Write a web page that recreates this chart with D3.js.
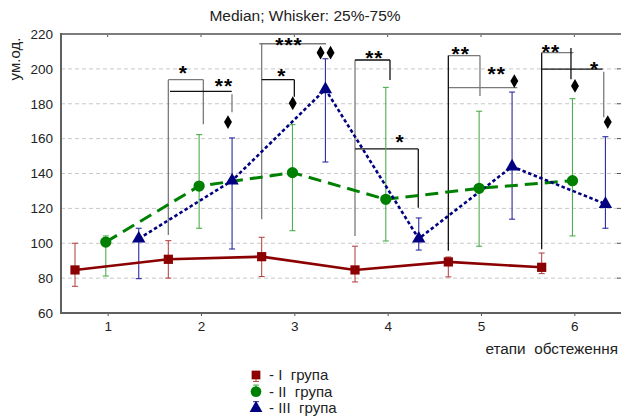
<!DOCTYPE html>
<html>
<head>
<meta charset="utf-8">
<script src="https://cdn.jsdelivr.net/npm/d3@7"></script>
<style>
body { margin: 0; background: white; }
text { font-family: "Liberation Sans", Arial, sans-serif; fill: #222; }
</style>
</head>
<body>
<script>
var width = 621;
var height = 416;

// stages of examination and the three groups (median, 25%, 75%)
var stages = [1, 2, 3, 4, 5, 6];
var groupLabels = ["- I  група", "- II  група", "- III  група"];
var medI = [84.7, 90.8, 92.3, 84.7, 89.3, 86.2];
var lowI = [75.3, 80.0, 80.9, 77.8, 80.7, 82.6];
var highI = [100.0, 101.5, 103.4, 98.3, 92.1, 94.4];
var medII = [100.7, 132.8, 140.5, 125.2, 131.5, 135.9];
var lowII = [81.2, 108.6, 107.2, 101.3, 98.3, 104.2];
var highII = [104.2, 162.3, 168.0, 189.4, 175.7, 182.9];
var medIII = [102.6, 135.9, 188.3, 102.6, 144.0, 122.5];
var lowIII = [79.7, 96.7, 146.6, 96.1, 113.8, 108.6];
var highIII = [108.6, 160.4, 205.8, 114.5, 186.7, 161.1];
var yTicks = [60, 80, 100, 120, 140, 160, 180, 200, 220];
var gridTicks = [80, 100, 120, 140, 160, 180, 200];

// significance brackets, [x1, y1, x2, y2] in stage / value units
var grayLinks = [
  [1.65, 193.8, 2.025, 193.8], [1.65, 193.8, 1.65, 104.7], [2.025, 193.8, 2.025, 168.2],
  [2.332, 185.4, 2.332, 175.1],
  [2.625, 214.4, 3.339, 214.4], [2.65, 214.4, 2.65, 113.7],
  [3.65, 205.1, 3.65, 104.2],
  [4.65, 207.6, 4.989, 207.6], [4.989, 207.6, 4.989, 184.4],
  [4.65, 189.2, 5.389, 189.2],
  [5.65, 209.3, 5.99, 209.3],
  [6.315, 198.4, 6.315, 172.2]
];
var blackLinks = [
  [1.668, 187.1, 2.329, 187.1],
  [2.65, 193.8, 3.0, 193.8], [3.0, 193.8, 3.0, 184.0],
  [3.65, 205.1, 4.025, 205.1], [4.025, 205.1, 4.025, 193.6],
  [3.65, 154.1, 4.328, 154.1], [4.328, 154.1, 4.328, 120.4],
  [4.65, 207.6, 4.65, 95.7],
  [5.65, 209.3, 5.65, 96.5], [5.964, 212.0, 5.964, 194.0],
  [5.65, 199.8, 6.304, 199.8]
];
var starMarks = [
  [1.81, 201.1, "*"], [2.246, 193.6, "**"], [2.943, 217.1, "***"], [2.865, 199.4, "*"],
  [3.857, 209.5, "**"], [4.132, 161.1, "*"], [4.783, 211.8, "**"], [5.168, 200.3, "**"],
  [5.75, 213.1, "**"], [6.218, 203.2, "*"]
];
var diamondMarks = [
  [2.289, 169.5], [2.983, 180.3], [3.281, 209.3], [3.388, 209.3],
  [5.357, 193.0], [6.007, 190.2], [6.358, 169.5]
];

var plotLeft = 61, plotRight = 621, plotTop = 34, plotBottom = 313;

var x = d3.scaleLinear().domain([0.5, 6.5]).range([plotLeft, plotRight]);
var y = d3.scaleLinear().domain([60, 220]).range([plotBottom, plotTop]);

function buildSeries(med, low, high) {
  return stages.map(function(s, i) {
    return {stage: s, med: med[i], low: low[i], high: high[i]};
  });
}

var groups = [
  {data: buildSeries(medI, lowI, highI), offset: -0.35, color: "#8b0000", whisker: "#b84a4a",
   dash: null, lineWidth: 2.6, symbol: d3.symbolSquare, size: 85},
  {data: buildSeries(medII, lowII, highII), offset: -0.02, color: "#008000", whisker: "#4cae4c",
   dash: "13,7", lineWidth: 3, symbol: d3.symbolCircle, size: 100},
  {data: buildSeries(medIII, lowIII, highIII), offset: 0.333, color: "#000080", whisker: "#2b2ba0",
   dash: "3.5,2.5", lineWidth: 2.6, symbol: d3.symbolTriangle, size: 78}
];

var svg = d3.select("body")
  .append("svg")
  .attr("width", width)
  .attr("height", height);

svg.append("text")
  .attr("x", 305)
  .attr("y", 21)
  .attr("text-anchor", "middle")
  .style("font-size", "15.5px")
  .text("Median; Whisker: 25%-75%");

// grid
svg.selectAll(".grid")
  .data(gridTicks)
  .enter()
  .append("line")
  .attr("class", "grid")
  .attr("x1", plotLeft)
  .attr("x2", plotRight)
  .attr("y1", (d) => y(d))
  .attr("y2", (d) => y(d))
  .attr("stroke", "#c8c8c8")
  .attr("stroke-dasharray", "4,3");

// brackets
function drawLinks(list, color) {
  svg.append("g")
    .selectAll("line")
    .data(list)
    .enter()
    .append("line")
    .attr("x1", (d) => x(d[0]))
    .attr("y1", (d) => y(d[1]))
    .attr("x2", (d) => x(d[2]))
    .attr("y2", (d) => y(d[3]))
    .attr("stroke", color)
    .attr("stroke-width", 1.3);
}
drawLinks(grayLinks, "#7a7a7a");
drawLinks(blackLinks, "#111");

// whiskers
groups.forEach(function(g) {
  var wg = svg.append("g").attr("stroke", g.whisker).attr("stroke-width", 1.1);
  wg.selectAll(".stem")
    .data(g.data).enter()
    .append("line")
    .attr("x1", (d) => x(d.stage + g.offset))
    .attr("x2", (d) => x(d.stage + g.offset))
    .attr("y1", (d) => y(d.low))
    .attr("y2", (d) => y(d.high));
  ["low", "high"].forEach(function(k) {
    wg.selectAll(".cap-" + k)
      .data(g.data).enter()
      .append("line")
      .attr("x1", (d) => x(d.stage + g.offset) - 3)
      .attr("x2", (d) => x(d.stage + g.offset) + 3)
      .attr("y1", (d) => y(d[k]))
      .attr("y2", (d) => y(d[k]));
  });
});

// lines
groups.forEach(function(g) {
  var line = d3.line()
    .x((d) => x(d.stage + g.offset))
    .y((d) => y(d.med));
  svg.append("path")
    .datum(g.data)
    .attr("d", line)
    .attr("fill", "none")
    .attr("stroke", g.color)
    .attr("stroke-width", g.lineWidth)
    .attr("stroke-dasharray", g.dash);
});

// markers
groups.forEach(function(g) {
  svg.selectAll(null)
    .data(g.data).enter()
    .append("path")
    .attr("d", d3.symbol(g.symbol, g.size))
    .attr("transform", (d) => "translate(" + x(d.stage + g.offset) + "," + y(d.med) + ")")
    .attr("fill", g.color);
});

// significance signs
svg.selectAll(".diamond")
  .data(diamondMarks).enter()
  .append("path")
  .attr("class", "diamond")
  .attr("d", d3.symbol(d3.symbolDiamond, 55))
  .attr("transform", (d) => "translate(" + x(d[0]) + "," + y(d[1]) + ")")
  .attr("fill", "#000");

svg.selectAll(".star")
  .data(starMarks).enter()
  .append("text")
  .attr("class", "star")
  .attr("x", (d) => x(d[0]))
  .attr("y", (d) => y(d[1]))
  .attr("dy", "0.6em")
  .attr("text-anchor", "middle")
  .style("font-size", "21px")
  .style("font-weight", "bold")
  .style("letter-spacing", "1px")
  .style("fill", "#000")
  .text((d) => d[2]);

// axes
var yAxis = d3.axisLeft(y).tickValues(yTicks).tickSize(0).tickPadding(8);
var gy = svg.append("g")
  .attr("transform", "translate(" + plotLeft + ",0)")
  .call(yAxis);
gy.select(".domain").remove();
gy.selectAll("text").style("font-size", "13.5px").style("fill", "#222");

var xAxis = d3.axisBottom(x).tickValues(stages).tickSize(3).tickPadding(5).tickFormat(d3.format("d"));
var gx = svg.append("g")
  .attr("transform", "translate(0," + plotBottom + ")")
  .call(xAxis);
gx.select(".domain").remove();
gx.selectAll("line").attr("stroke", "#555");
gx.selectAll("text").style("font-size", "13.5px").style("fill", "#222");

// top and right ticks
svg.selectAll(".ttick")
  .data(stages).enter()
  .append("line")
  .attr("x1", (d) => x(d)).attr("x2", (d) => x(d))
  .attr("y1", plotTop).attr("y2", plotTop + 3)
  .attr("stroke", "#555");
svg.selectAll(".rtick")
  .data(gridTicks).enter()
  .append("line")
  .attr("x1", plotRight - 4).attr("x2", plotRight)
  .attr("y1", (d) => y(d)).attr("y2", (d) => y(d))
  .attr("stroke", "#555");

// frame
svg.append("line")
  .attr("x1", plotLeft).attr("x2", plotRight).attr("y1", plotTop).attr("y2", plotTop)
  .attr("stroke", "#7c7c7c").attr("stroke-width", 2);
svg.append("line")
  .attr("x1", plotLeft).attr("x2", plotLeft).attr("y1", plotTop - 1).attr("y2", plotBottom + 1)
  .attr("stroke", "#606060").attr("stroke-width", 2);
svg.append("line")
  .attr("x1", plotLeft).attr("x2", plotRight).attr("y1", plotBottom).attr("y2", plotBottom)
  .attr("stroke", "#606060").attr("stroke-width", 2);

svg.append("text")
  .attr("transform", "translate(15,59) rotate(-90)")
  .attr("text-anchor", "middle")
  .attr("dy", "0.35em")
  .style("font-size", "15px")
  .text("ум.од.");

svg.append("text")
  .attr("x", 618)
  .attr("y", 354)
  .attr("text-anchor", "end")
  .style("font-size", "15.3px")
  .style("white-space", "pre")
  .text("етапи  обстеження");

// legend
var legend = svg.selectAll(".legend")
  .data(groups).enter()
  .append("g")
  .attr("class", "legend")
  .attr("transform", (d, i) => "translate(256," + (375 + i * 16.6) + ")");

legend.append("line")
  .attr("x1", 0).attr("x2", 0)
  .attr("y1", (d, i) => i == 0 ? 0 : -7)
  .attr("y2", (d, i) => i == 0 ? 7 : 0)
  .attr("stroke", (d) => d.whisker);
legend.append("line")
  .attr("x1", -3).attr("x2", 3)
  .attr("y1", (d, i) => i == 0 ? 6.5 : -6.5)
  .attr("y2", (d, i) => i == 0 ? 6.5 : -6.5)
  .attr("stroke", (d) => d.whisker);
legend.append("path")
  .attr("d", (d) => d3.symbol(d.symbol, d.size * 0.9)())
  .attr("fill", (d) => d.color);

legend.append("text")
  .attr("x", 13)
  .attr("dy", "0.35em")
  .style("font-size", "15px")
  .style("white-space", "pre")
  .text((d, i) => groupLabels[i]);
</script>
</body>
</html>
